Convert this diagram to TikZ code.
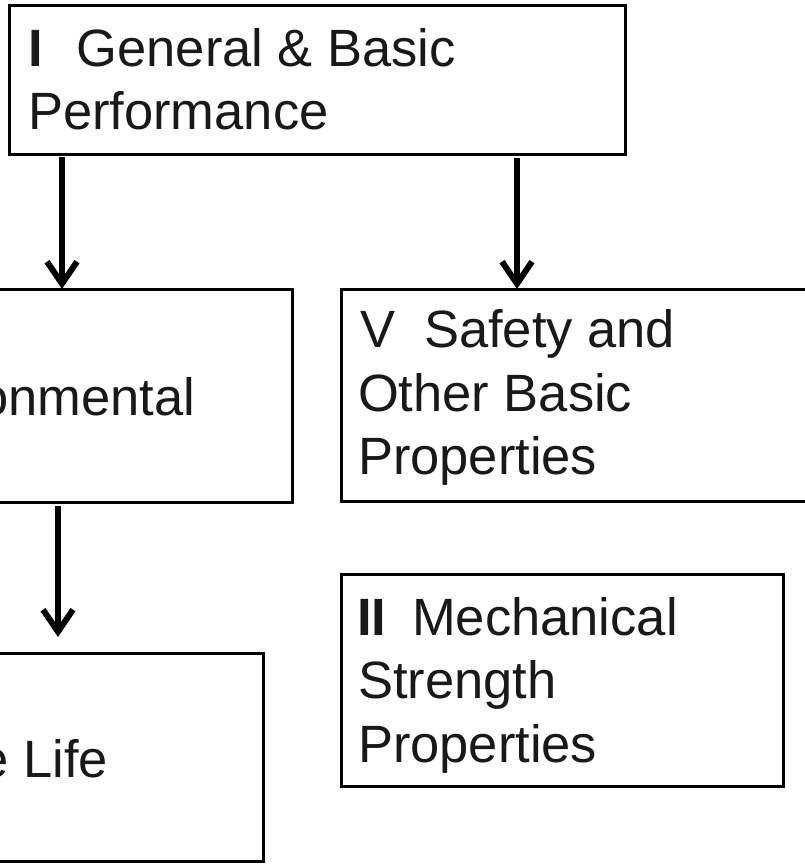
\documentclass[tikz,border=0pt]{standalone}
\usepackage{fontspec}
\setmainfont{Liberation Sans}
\usetikzlibrary{arrows.meta}
\begin{document}
\begin{tikzpicture}[x=1pt,y=-1pt,
  box/.style={draw=black,line width=3pt,rectangle,inner sep=0pt,outer sep=0pt},
  lbl/.style={inner sep=0pt,outer sep=0pt,font=\fontsize{52.5}{63}\selectfont,text=black!90},
  arr/.style={line width=6pt,-{Straight Barb[length=22pt,width=30pt,line width=6pt]}}]
\useasboundingbox (0,0) rectangle (804,864);
% boxes
\node[box,anchor=north west,minimum width=616pt,minimum height=148pt] (gen) at (9,6) {};
\node[box,anchor=north west,minimum width=312pt,minimum height=213pt] (env) at (-20,289) {};
\node[box,anchor=north west,minimum width=489pt,minimum height=212pt] (saf) at (341,289) {};
\node[box,anchor=north west,minimum width=283pt,minimum height=208pt] (life) at (-20,653) {};
\node[box,anchor=north west,minimum width=442pt,minimum height=212pt] (mech) at (341,574) {};
% labels
\node[lbl,anchor=base west] (gen1) at (28,67) {\textbf{I}\hspace*{34pt}General \& Basic};
\node[lbl,anchor=base west] (gen2) at (28,130) {Performance};
\node[lbl,anchor=base east] (envt) at (195,415) {onmental};
\node[lbl,anchor=base west] (saf1) at (360,347) {V\ \ Safety and};
\node[lbl,anchor=base west] (saf2) at (358,411) {Other Basic};
\node[lbl,anchor=base west] (saf3) at (358,474) {Properties};
\node[lbl,anchor=base east] (lifet) at (108,777) {e Life};
\node[lbl,anchor=base west] (mech1) at (357,635) {\textbf{II}\hspace*{26pt}Mechanical};
\node[lbl,anchor=base west] (mech2) at (358,698) {Strength};
\node[lbl,anchor=base west] (mech3) at (358,762) {Properties};
% connectors
\coordinate (lifetop) at ([xshift=78pt]env.south west |- life.north);
\draw[arr] ([xshift=53pt,yshift=-3pt]gen.south west) -- ([xshift=53pt]gen.south west |- env.north);
\draw[arr] ([xshift=508pt,yshift=-4pt]gen.south west) -- ([xshift=508pt]gen.south west |- saf.north);
\draw[arr] ([xshift=78pt,yshift=-4pt]env.south west) -- ([yshift=16pt]lifetop);
\end{tikzpicture}
\end{document}
